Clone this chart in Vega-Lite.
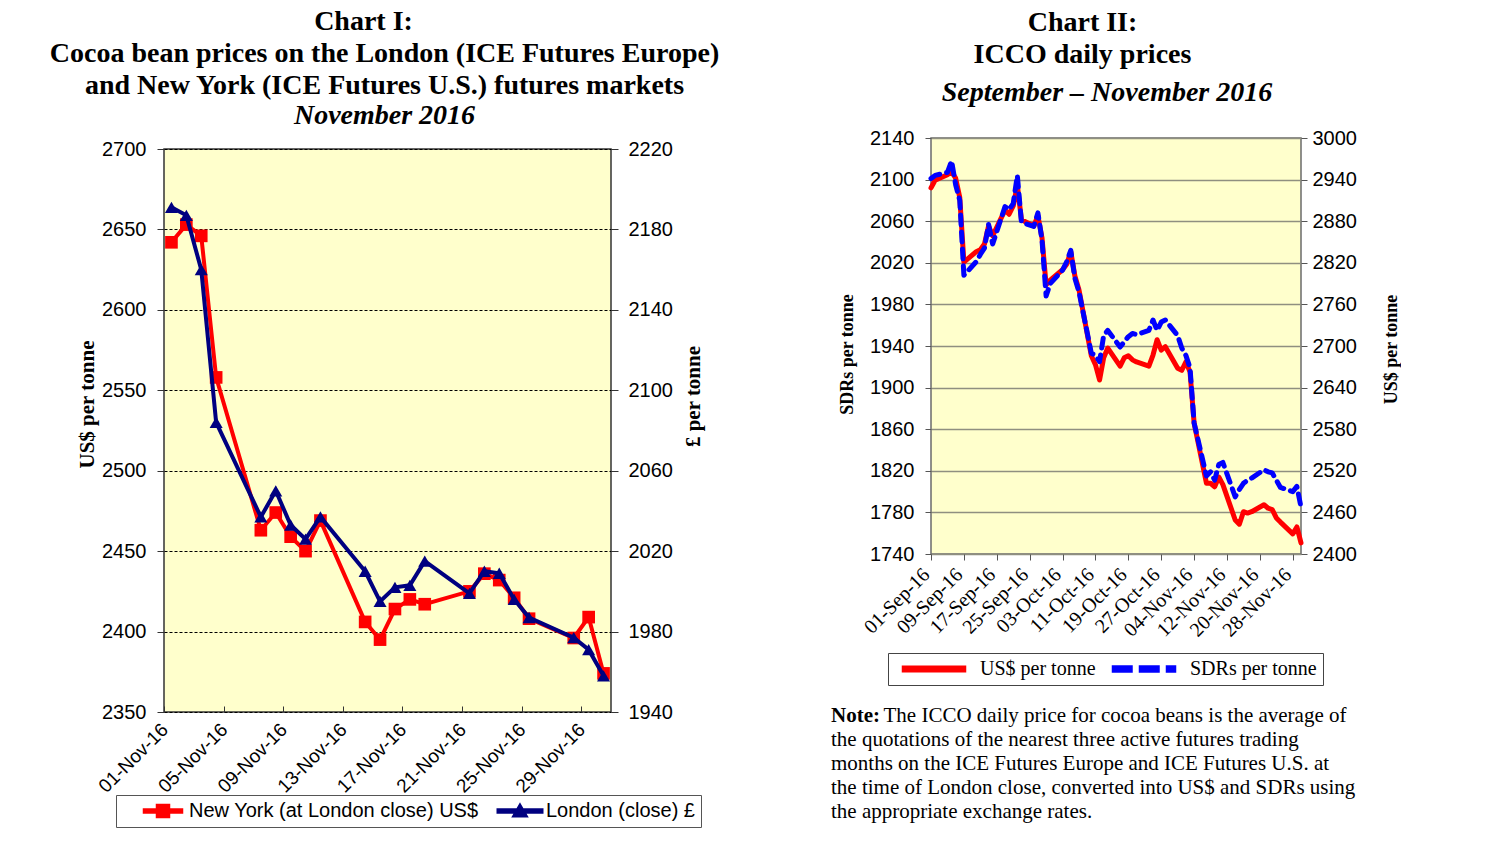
{
  "$schema": "https://vega.github.io/schema/vega-lite/v6.json",
  "background": "white",
  "padding": {"left": 49, "top": 8, "right": 0, "bottom": 0},
  "config": {"view": {"stroke": null}, "font": "Liberation Sans"},
  "resolve": {"scale": {"color": "independent"}, "legend": {"color": "independent"}},
  "datasets": {
    "c1": [
      {"date": "2016-11-01", "ny": 2642, "london": 2191},
      {"date": "2016-11-02", "ny": 2653, "london": 2187},
      {"date": "2016-11-03", "ny": 2646, "london": 2160},
      {"date": "2016-11-04", "ny": 2558, "london": 2084},
      {"date": "2016-11-07", "ny": 2463, "london": 2037},
      {"date": "2016-11-08", "ny": 2474, "london": 2050},
      {"date": "2016-11-09", "ny": 2459, "london": 2033},
      {"date": "2016-11-10", "ny": 2450, "london": 2026},
      {"date": "2016-11-11", "ny": 2469, "london": 2037},
      {"date": "2016-11-14", "ny": 2406, "london": 2010},
      {"date": "2016-11-15", "ny": 2395, "london": 1995},
      {"date": "2016-11-16", "ny": 2414, "london": 2002},
      {"date": "2016-11-17", "ny": 2420, "london": 2003},
      {"date": "2016-11-18", "ny": 2417, "london": 2015},
      {"date": "2016-11-21", "ny": 2425, "london": 1999},
      {"date": "2016-11-22", "ny": 2436, "london": 2010},
      {"date": "2016-11-23", "ny": 2432, "london": 2009},
      {"date": "2016-11-24", "ny": 2421, "london": 1996},
      {"date": "2016-11-25", "ny": 2408, "london": 1987},
      {"date": "2016-11-28", "ny": 2396, "london": 1977},
      {"date": "2016-11-29", "ny": 2409, "london": 1971},
      {"date": "2016-11-30", "ny": 2374, "london": 1958}
    ],
    "c2": [
      {"date": "2016-09-01", "usd": 2928, "sdr": 2101},
      {"date": "2016-09-02", "usd": 2939, "sdr": 2104},
      {"date": "2016-09-05", "usd": 2947, "sdr": 2107},
      {"date": "2016-09-06", "usd": 2951, "sdr": 2118},
      {"date": "2016-09-07", "usd": 2942, "sdr": 2095},
      {"date": "2016-09-08", "usd": 2914, "sdr": 2080},
      {"date": "2016-09-09", "usd": 2821, "sdr": 2008},
      {"date": "2016-09-12", "usd": 2836, "sdr": 2021},
      {"date": "2016-09-13", "usd": 2839, "sdr": 2028},
      {"date": "2016-09-14", "usd": 2847, "sdr": 2034},
      {"date": "2016-09-15", "usd": 2873, "sdr": 2057},
      {"date": "2016-09-16", "usd": 2859, "sdr": 2038},
      {"date": "2016-09-19", "usd": 2896, "sdr": 2074},
      {"date": "2016-09-20", "usd": 2890, "sdr": 2071},
      {"date": "2016-09-21", "usd": 2902, "sdr": 2077},
      {"date": "2016-09-22", "usd": 2932, "sdr": 2104},
      {"date": "2016-09-23", "usd": 2882, "sdr": 2059},
      {"date": "2016-09-26", "usd": 2873, "sdr": 2055},
      {"date": "2016-09-27", "usd": 2888, "sdr": 2068},
      {"date": "2016-09-28", "usd": 2856, "sdr": 2042},
      {"date": "2016-09-29", "usd": 2788, "sdr": 1988},
      {"date": "2016-09-30", "usd": 2795, "sdr": 2000},
      {"date": "2016-10-03", "usd": 2810, "sdr": 2013},
      {"date": "2016-10-04", "usd": 2818, "sdr": 2021},
      {"date": "2016-10-05", "usd": 2836, "sdr": 2032},
      {"date": "2016-10-06", "usd": 2801, "sdr": 2005},
      {"date": "2016-10-07", "usd": 2781, "sdr": 1992},
      {"date": "2016-10-10", "usd": 2686, "sdr": 1933},
      {"date": "2016-10-11", "usd": 2673, "sdr": 1931},
      {"date": "2016-10-12", "usd": 2651, "sdr": 1925},
      {"date": "2016-10-13", "usd": 2683, "sdr": 1950},
      {"date": "2016-10-14", "usd": 2697, "sdr": 1955},
      {"date": "2016-10-17", "usd": 2671, "sdr": 1939},
      {"date": "2016-10-18", "usd": 2683, "sdr": 1944},
      {"date": "2016-10-19", "usd": 2686, "sdr": 1949},
      {"date": "2016-10-20", "usd": 2680, "sdr": 1952},
      {"date": "2016-10-21", "usd": 2677, "sdr": 1951},
      {"date": "2016-10-24", "usd": 2671, "sdr": 1955},
      {"date": "2016-10-25", "usd": 2687, "sdr": 1965},
      {"date": "2016-10-26", "usd": 2709, "sdr": 1955},
      {"date": "2016-10-27", "usd": 2694, "sdr": 1963},
      {"date": "2016-10-28", "usd": 2699, "sdr": 1965},
      {"date": "2016-10-31", "usd": 2668, "sdr": 1950},
      {"date": "2016-11-01", "usd": 2665, "sdr": 1938},
      {"date": "2016-11-02", "usd": 2677, "sdr": 1931},
      {"date": "2016-11-03", "usd": 2663, "sdr": 1919},
      {"date": "2016-11-04", "usd": 2589, "sdr": 1866},
      {"date": "2016-11-07", "usd": 2502, "sdr": 1815},
      {"date": "2016-11-08", "usd": 2502, "sdr": 1819},
      {"date": "2016-11-09", "usd": 2497, "sdr": 1811},
      {"date": "2016-11-10", "usd": 2511, "sdr": 1826},
      {"date": "2016-11-11", "usd": 2500, "sdr": 1828},
      {"date": "2016-11-14", "usd": 2449, "sdr": 1795},
      {"date": "2016-11-15", "usd": 2443, "sdr": 1802},
      {"date": "2016-11-16", "usd": 2461, "sdr": 1808},
      {"date": "2016-11-17", "usd": 2459, "sdr": 1811},
      {"date": "2016-11-18", "usd": 2461, "sdr": 1813},
      {"date": "2016-11-21", "usd": 2471, "sdr": 1821},
      {"date": "2016-11-22", "usd": 2466, "sdr": 1819},
      {"date": "2016-11-23", "usd": 2464, "sdr": 1818},
      {"date": "2016-11-24", "usd": 2452, "sdr": 1811},
      {"date": "2016-11-25", "usd": 2446, "sdr": 1804},
      {"date": "2016-11-28", "usd": 2429, "sdr": 1800},
      {"date": "2016-11-29", "usd": 2439, "sdr": 1805},
      {"date": "2016-11-30", "usd": 2416, "sdr": 1785}
    ]
  },
  "spacing": 110,
  "hconcat": [
    {
      "bounds": "flush",
      "spacing": 20,
      "vconcat": [
        {
          "width": 447, "height": 1,
          "data": {"values": []},
          "mark": "point",
          "view": {"stroke": null, "fill": null},
          "title": {
            "text": ["Chart I:\u00a0\u00a0\u00a0\u00a0\u00a0\u00a0\u200b", "Cocoa bean prices on the London (ICE Futures Europe)", "and New York (ICE Futures U.S.) futures markets"],
            "subtitle": "November 2016",
            "font": "Liberation Serif", "fontSize": 28, "fontWeight": "bold", "lineHeight": 32, "color": "black",
            "subtitleFont": "Liberation Serif", "subtitleFontSize": 28, "subtitleFontWeight": "bold", "subtitleFontStyle": "italic",
            "subtitleColor": "black", "subtitleLineHeight": 32, "subtitlePadding": 2,
            "anchor": "middle", "offset": -2, "dx": -3
          }
        },
        {
          "width": 447, "height": 563,
          "data": {"name": "c1"},
          "view": {"fill": "#FFFFCC", "stroke": "#333333", "strokeWidth": 1.5},
          "encoding": {
            "x": {
              "field": "date", "type": "temporal", "timeUnit": "utcyearmonthdate", "bandPosition": 0.5,
              "scale": {"domain": [{"year": 2016, "month": 11, "date": 1, "utc": true}, {"year": 2016, "month": 12, "date": 1, "utc": true}]},
              "axis": {
                "title": null, "grid": false, "domain": false,
                "values": [
                  {"year": 2016, "month": 11, "date": 1, "utc": true},
                  {"year": 2016, "month": 11, "date": 5, "utc": true},
                  {"year": 2016, "month": 11, "date": 9, "utc": true},
                  {"year": 2016, "month": 11, "date": 13, "utc": true},
                  {"year": 2016, "month": 11, "date": 17, "utc": true},
                  {"year": 2016, "month": 11, "date": 21, "utc": true},
                  {"year": 2016, "month": 11, "date": 25, "utc": true},
                  {"year": 2016, "month": 11, "date": 29, "utc": true}
                ],
                "labelExpr": "utcFormat(datum.value, '%d-%b-%y')", "labelOverlap": false,
                "labelAngle": -45, "labelFont": "Liberation Sans", "labelFontSize": 19, "labelColor": "black",
                "tickSize": -6, "tickColor": "#333333", "labelPadding": 14, "labelOffset": -6
              }
            }
          },
          "layer": [
            {
              "mark": {"type": "line", "strokeWidth": 4},
              "encoding": {
                "y": {
                  "field": "ny", "type": "quantitative", "scale": {"domain": [2350, 2700], "zero": false},
                  "axis": {
                    "orient": "left", "values": [2350, 2400, 2450, 2500, 2550, 2600, 2650, 2700], "format": "d",
                    "grid": true, "gridColor": "black", "gridDash": [3, 2], "gridWidth": 1, "domain": false,
                    "tickSize": 7, "tickColor": "#333333",
                    "labelFont": "Liberation Sans", "labelFontSize": 20, "labelColor": "black", "labelPadding": 11,
                    "title": "US$ per tonne", "titleFont": "Liberation Serif", "titleFontSize": 21, "titleFontWeight": "bold",
                    "titleColor": "black", "titleX": -77, "titleY": 255, "titleAngle": -90, "titleBaseline": "middle", "titleAlign": "center"
                  }
                },
                "color": {
                  "datum": "New York (at London close) US$",
                  "scale": {"domain": ["New York (at London close) US$", "London (close) £"], "range": ["#FF0000", "#000080"]},
                  "legend": {
                    "title": null, "orient": "none", "legendX": -48, "legendY": 667, "direction": "horizontal",
                    "strokeColor": "#555555", "fillColor": "white", "padding": 6,
                    "labelFont": "Liberation Sans", "labelFontSize": 20, "labelColor": "black", "labelLimit": 400,
                    "symbolSize": 169, "symbolOffset": 31, "labelOffset": 16, "columnPadding": 0,
                    "encode": {"symbols": {"update": {
                      "shape": {"signal": "datum.value === 'London (close) £' ? 'M-3.5,-0.3H3.5V0.3H-3.5Z M0,-1.1L1.15,0.9H-1.15Z' : 'M-3,-0.3H3V0.3H-3Z M-1,-1H1V1H-1Z'"},
                      "fill": {"signal": "datum.value === 'London (close) £' ? '#000080' : '#FF0000'"},
                      "stroke": {"value": "transparent"},
                      "opacity": {"value": 1}
                    }}}
                  }
                }
              }
            },
            {
              "mark": {"type": "point", "shape": "square", "filled": true, "size": 160, "opacity": 1},
              "encoding": {
                "y": {"field": "ny", "type": "quantitative", "scale": {"domain": [2350, 2700], "zero": false}, "axis": null},
                "color": {
                  "datum": "New York (at London close) US$",
                  "scale": {"domain": ["New York (at London close) US$", "London (close) £"], "range": ["#FF0000", "#000080"]}
                }
              }
            },
            {
              "mark": {"type": "line", "strokeWidth": 4},
              "encoding": {
                "y": {
                  "field": "london", "type": "quantitative", "scale": {"domain": [1940, 2220], "zero": false},
                  "axis": {
                    "orient": "right", "values": [1940, 1980, 2020, 2060, 2100, 2140, 2180, 2220], "format": "d",
                    "grid": false, "domain": false, "tickSize": 7, "tickColor": "#333333",
                    "labelFont": "Liberation Sans", "labelFontSize": 20, "labelColor": "black", "labelPadding": 10,
                    "title": "£ per tonne", "titleFont": "Liberation Serif", "titleFontSize": 21, "titleFontWeight": "bold",
                    "titleColor": "black", "titleX": 82, "titleY": 247, "titleAngle": -90, "titleBaseline": "middle", "titleAlign": "center"
                  }
                },
                "color": {
                  "datum": "London (close) £",
                  "scale": {"domain": ["New York (at London close) US$", "London (close) £"], "range": ["#FF0000", "#000080"]}
                }
              }
            },
            {
              "mark": {"type": "point", "shape": "triangle-up", "filled": true, "size": 170, "opacity": 1},
              "encoding": {
                "y": {"field": "london", "type": "quantitative", "scale": {"domain": [1940, 2220], "zero": false}, "axis": null},
                "color": {
                  "datum": "London (close) £",
                  "scale": {"domain": ["New York (at London close) US$", "London (close) £"], "range": ["#FF0000", "#000080"]}
                }
              }
            }
          ],
          "resolve": {"scale": {"y": "independent"}}
        }
      ]
    },
    {
      "bounds": "flush",
      "spacing": 9,
      "vconcat": [
        {
          "width": 370, "height": 1,
          "data": {"values": []},
          "mark": "point",
          "view": {"stroke": null, "fill": null},
          "title": {
            "text": ["Chart II:\u00a0\u00a0\u00a0\u00a0\u00a0\u00a0\u00a0\u200b", "ICCO daily prices\u00a0\u00a0\u00a0\u00a0\u00a0\u00a0\u00a0\u200b"],
            "subtitle": "September – November 2016",
            "font": "Liberation Serif", "fontSize": 28, "fontWeight": "bold", "lineHeight": 32, "color": "black",
            "subtitleFont": "Liberation Serif", "subtitleFontSize": 28, "subtitleFontWeight": "bold", "subtitleFontStyle": "italic",
            "subtitleColor": "black", "subtitleLineHeight": 32, "subtitlePadding": 10,
            "anchor": "middle", "offset": 21, "dx": -9
          }
        },
        {
          "width": 370, "height": 416,
          "data": {"name": "c2"},
          "view": {"fill": "#FFFFCC", "stroke": "#6b6b6b", "strokeWidth": 1.5},
          "title": {
            "text": "Note:",
            "subtitle": [
              "\u200b\u00a0\u00a0\u00a0\u00a0\u00a0\u00a0\u00a0\u00a0\u00a0\u00a0The ICCO daily price for cocoa beans is the average of",
              "the quotations of the nearest three active futures trading",
              "months on the ICE Futures Europe and ICE Futures U.S. at",
              "the time of London close, converted into US$ and SDRs using",
              "the appropriate exchange rates."
            ],
            "orient": "bottom", "anchor": "start", "offset": 65, "dx": -7,
            "font": "Liberation Serif", "fontSize": 21, "fontWeight": "bold", "color": "black", "lineHeight": 24,
            "subtitleFont": "Liberation Serif", "subtitleFontSize": 21, "subtitleFontWeight": "normal", "subtitleColor": "black",
            "subtitleLineHeight": 24, "subtitlePadding": -21
          },
          "encoding": {
            "x": {
              "field": "date", "type": "temporal",
              "scale": {"type": "utc", "domain": [{"year": 2016, "month": 9, "date": 1, "utc": true}, {"year": 2016, "month": 11, "date": 30, "utc": true}]},
              "axis": {
                "title": null, "grid": false, "domain": false,
                "values": [
                  {"year": 2016, "month": 9, "date": 1, "utc": true},
                  {"year": 2016, "month": 9, "date": 9, "utc": true},
                  {"year": 2016, "month": 9, "date": 17, "utc": true},
                  {"year": 2016, "month": 9, "date": 25, "utc": true},
                  {"year": 2016, "month": 10, "date": 3, "utc": true},
                  {"year": 2016, "month": 10, "date": 11, "utc": true},
                  {"year": 2016, "month": 10, "date": 19, "utc": true},
                  {"year": 2016, "month": 10, "date": 27, "utc": true},
                  {"year": 2016, "month": 11, "date": 4, "utc": true},
                  {"year": 2016, "month": 11, "date": 12, "utc": true},
                  {"year": 2016, "month": 11, "date": 20, "utc": true},
                  {"year": 2016, "month": 11, "date": 28, "utc": true}
                ],
                "labelExpr": "utcFormat(datum.value, '%d-%b-%y')", "labelOverlap": false,
                "labelAngle": -45, "labelFont": "Liberation Serif", "labelFontSize": 20, "labelColor": "black",
                "tickSize": 6, "tickColor": "#555555", "labelPadding": 4, "labelOffset": -12
              }
            }
          },
          "layer": [
            {
              "mark": {"type": "line", "strokeWidth": 5, "strokeCap": "round", "strokeJoin": "round"},
              "encoding": {
                "y": {
                  "field": "usd", "type": "quantitative", "scale": {"domain": [2400, 3000], "zero": false},
                  "axis": {
                    "orient": "right", "values": [2400, 2460, 2520, 2580, 2640, 2700, 2760, 2820, 2880, 2940, 3000], "format": "d",
                    "grid": false, "domain": false, "tickSize": 6, "tickColor": "#555555",
                    "labelFont": "Liberation Sans", "labelFontSize": 20, "labelColor": "black", "labelPadding": 5,
                    "title": "US$ per tonne", "titleFont": "Liberation Serif", "titleFontSize": 18, "titleFontWeight": "bold",
                    "titleColor": "black", "titleX": 90, "titleY": 211, "titleAngle": -90, "titleBaseline": "middle", "titleAlign": "center"
                  }
                },
                "color": {
                  "datum": "US$ per tonne",
                  "scale": {"domain": ["US$ per tonne", "SDRs per tonne"], "range": ["#FF0000", "#0000FF"]},
                  "legend": {
                    "title": null, "orient": "none", "legendX": -43, "legendY": 525, "direction": "horizontal",
                    "strokeColor": "#444444", "fillColor": "white", "padding": 6,
                    "labelFont": "Liberation Serif", "labelFontSize": 20, "labelColor": "black",
                    "symbolSize": 36, "symbolOffset": 30, "labelOffset": 36, "columnPadding": 8,
                    "encode": {"symbols": {"update": {
                      "shape": {"signal": "datum.value === 'SDRs per tonne' ? 'M-10.5,-1H-4V1H-10.5Z M-1.5,-1H5V1H-1.5Z M7.5,-1H10.5V1H7.5Z' : 'M-10.5,-0.9H10.5V0.9H-10.5Z'"},
                      "fill": {"signal": "datum.value === 'SDRs per tonne' ? '#0000FF' : '#FF0000'"},
                      "stroke": {"value": "transparent"},
                      "opacity": {"value": 1}
                    }}}
                  }
                }
              }
            },
            {
              "mark": {"type": "line", "strokeWidth": 5, "strokeDash": [10, 7], "strokeCap": "round", "strokeJoin": "round"},
              "encoding": {
                "y": {
                  "field": "sdr", "type": "quantitative", "scale": {"domain": [1740, 2140], "zero": false},
                  "axis": {
                    "orient": "left", "values": [1740, 1780, 1820, 1860, 1900, 1940, 1980, 2020, 2060, 2100, 2140], "format": "d",
                    "grid": true, "gridColor": "#8f8f80", "gridWidth": 1.5, "domain": false,
                    "tickSize": 6, "tickColor": "#555555",
                    "labelFont": "Liberation Sans", "labelFontSize": 20, "labelColor": "black", "labelPadding": 11,
                    "title": "SDRs per tonne", "titleFont": "Liberation Serif", "titleFontSize": 18, "titleFontWeight": "bold",
                    "titleColor": "black", "titleX": -84, "titleY": 216, "titleAngle": -90, "titleBaseline": "middle", "titleAlign": "center"
                  }
                },
                "color": {
                  "datum": "SDRs per tonne",
                  "scale": {"domain": ["US$ per tonne", "SDRs per tonne"], "range": ["#FF0000", "#0000FF"]}
                }
              }
            }
          ],
          "resolve": {"scale": {"y": "independent"}}
        }
      ]
    }
  ]
}
